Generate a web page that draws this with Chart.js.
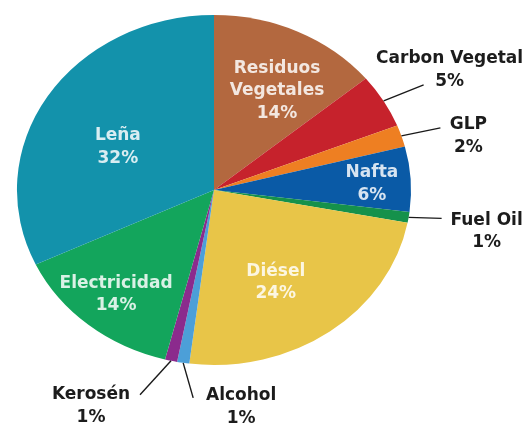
<!DOCTYPE html>
<html>
<head>
<meta charset="utf-8">
<script src="https://cdn.jsdelivr.net/npm/chart.js@4.4.1/dist/chart.umd.min.js"></script>
<style>
    html, body { margin: 0; padding: 0; background: #ffffff; }
    canvas { display: block; }
</style>
</head>
<body>
<canvas id="chartConsumo" width="531" height="424"></canvas>
<script>
// datos, en orden horario desde las 12
const categorias = ["Residuos Vegetales", "Carbon Vegetal", "GLP", "Nafta", "Fuel Oil", "Diésel", "Alcohol", "Kerosén", "Electricidad", "Leña"];
const porcentajes = [14, 5, 2, 6, 1, 24, 1, 1, 14, 32];
const colores = ["#b3683f", "#c6222c", "#ee7f22", "#0a5aa6", "#15914b", "#e8c548", "#4c9fd8", "#8b2b8d", "#13a55c", "#1392ab"];

// estilo de las etiquetas
const stretchX = 1.126;
const etiquetaDentro = {
    "Residuos Vegetales": [11, -1],
    "Nafta": [36, 1],
    "Diésel": [-10, 5],
    "Electricidad": [-20, 21],
    "Leña": [7, 15]
};
// [linea fin dx, dy, texto dx, dy] desde el borde del sector
const etiquetaFuera = {
    "Carbon Vegetal": [40, -16, 66, -42],
    "GLP": [39, -8, 67, -11],
    "Fuel Oil": [33, 1, 78, 3],
    "Kerosén": [-31, 34, -80, 34],
    "Alcohol": [10, 35, 58, 33]
};

const stretchPlugin = {
    id: "stretch",
    beforeDatasetsDraw(chart) {
        const arc = chart.getDatasetMeta(0).data[0];
        const ctx = chart.ctx;
        ctx.save();
        ctx.translate(arc.x, arc.y);
        ctx.scale(stretchX, 1);
        ctx.translate(-arc.x, -arc.y);
    },
    afterDatasetsDraw(chart) {
        chart.ctx.restore();
    }
};

const labelsPlugin = {
    id: "etiquetas",
    afterDraw(chart) {
        const ctx = chart.ctx;
        const arcs = chart.getDatasetMeta(0).data;
        ctx.save();
        ctx.textAlign = "center";
        ctx.textBaseline = "middle";

        arcs.forEach((arc, i) => {
            const nombre = categorias[i];
            const mid = (arc.startAngle + arc.endAngle) / 2;
            const r = arc.outerRadius;
            const punto = f => ({
                x: arc.x + Math.cos(mid) * r * f * stretchX,
                y: arc.y + Math.sin(mid) * r * f
            });
            const texto = porcentajes[i] + "%";

            if (etiquetaDentro[nombre]) {
                const off = etiquetaDentro[nombre];
                const p = punto(0.62);
                const lineas = nombre.split(" ").concat([texto]);
                const alto = 22.5;
                const y0 = p.y + off[1] - (lineas.length - 1) * alto / 2;
                ctx.font = "bold 17px 'DejaVu Sans'";
                ctx.fillStyle = "rgba(255,255,255,0.84)";
                lineas.forEach((l, k) => ctx.fillText(l, p.x + off[0], y0 + k * alto));
            } else if (etiquetaFuera[nombre]) {
                const off = etiquetaFuera[nombre];
                const p = punto(1.0);
                ctx.strokeStyle = "#1a1a1a";
                ctx.lineWidth = 1.4;
                ctx.beginPath();
                ctx.moveTo(p.x, p.y);
                ctx.lineTo(p.x + off[0], p.y + off[1]);
                ctx.stroke();
                ctx.font = "bold 17px 'DejaVu Sans'";
                ctx.fillStyle = "#1c1c1c";
                ctx.fillText(nombre, p.x + off[2], p.y + off[3]);
                ctx.fillText(texto, p.x + off[2], p.y + off[3] + 22.5);
            }
        });
        ctx.restore();
    }
};

document.addEventListener("DOMContentLoaded", () => {
    const ctx = document.getElementById("chartConsumo");

    new Chart(ctx, {
        type: "pie",
        data: {
            labels: categorias,
            datasets: [{
                data: porcentajes,
                backgroundColor: colores,
                borderWidth: 0,
                hoverOffset: 0
            }]
        },
        options: {
            responsive: false,
            animation: false,
            devicePixelRatio: 1,
            layout: {
                padding: { left: 39, right: 142, top: 15, bottom: 59 }
            },
            plugins: {
                legend: { display: false },
                tooltip: { enabled: false }
            }
        },
        plugins: [stretchPlugin, labelsPlugin]
    });
});
</script>
</body>
</html>
